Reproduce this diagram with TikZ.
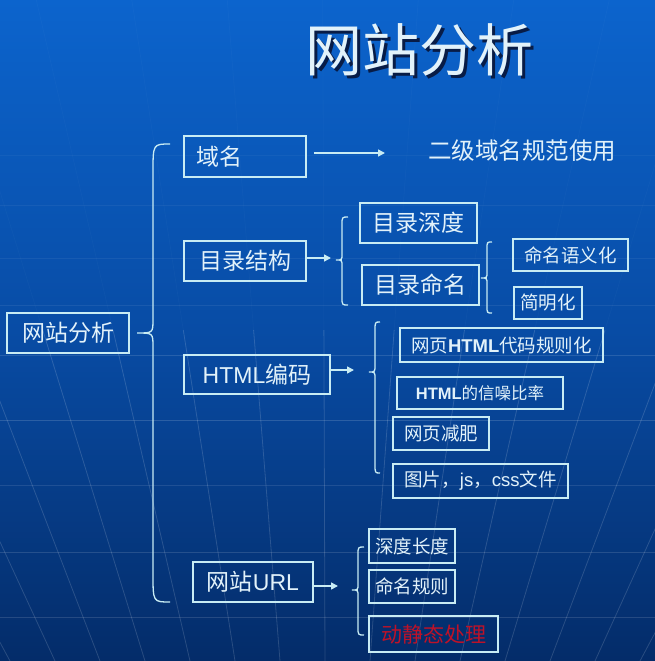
\documentclass[tikz,border=0pt]{standalone}
\usepackage{fontspec}
\setmainfont{Liberation Sans}
\newfontfamily\cjkf{Noto Sans CJK SC}
\usetikzlibrary{arrows.meta}
\newcommand\cj[1]{{\cjkf #1}}
\newcommand\fbig{\fontsize{23}{26}\selectfont}
\newcommand\fsml{\fontsize{18.5}{21}\selectfont}
\definecolor{bgtop}{RGB}{12,100,205}
\definecolor{bgmid}{RGB}{8,76,165}
\definecolor{bgbot}{RGB}{4,44,105}
\definecolor{linec}{RGB}{200,236,244}
\definecolor{txtc}{RGB}{226,242,250}
\definecolor{redt}{RGB}{190,18,40}
\definecolor{shadowc}{RGB}{8,28,70}
\tikzset{
  box/.style={draw=linec, line width=1.5pt, text=txtc, inner sep=0pt, align=center},
  brc/.style={draw=linec, line width=1.3pt},
  arr/.style={draw=linec, line width=1.5pt, -{Triangle[length=7pt,width=7pt]}},
  gridl/.style={draw=white, line width=0.8pt},
}
\newcommand\curly[8]{%
  \draw[brc] (#3,#4) .. controls (#1,#4) .. (#1,#4+#7) -- (#1,#5-#8)
    .. controls (#1,#5) .. (#2,#5) .. controls (#1,#5) .. (#1,#5+#8)
    -- (#1,#6-#7) .. controls (#1,#6) .. (#3,#6);}
\begin{document}
\begin{tikzpicture}[x=1pt,y=-1pt]
\useasboundingbox (0,0) rectangle (655,661);
\shade[top color=bgtop, bottom color=bgbot, middle color=bgmid] (0,0) rectangle (655,661);
% background grid
\begin{scope}
\clip (0,0) rectangle (655,661);
\foreach \yy/\op in {155/0.04,205/0.05,258/0.06,305/0.07,355/0.12,420/0.15,485/0.10,552/0.13,617/0.13}
  \draw[gridl, opacity=\op] (0,\yy) -- (655,\yy);
\foreach \xb in {-125,-80,...,730}{
  \pgfmathsetmacro\xu{327+(\xb-327)*2.122}
  \pgfmathsetmacro\xm{327+(\xb-327)*1.562}
  \draw[gridl, opacity=0.025] (\xu,0) -- (\xm,330);
  \draw[gridl, opacity=0.15] (\xm,330) -- (\xb,661);
}
\end{scope}
% title
\node[font=\cjkf\fontsize{57}{60}\selectfont, text=shadowc] (titleshadow) at (422,53) {网站分析};
\node[font=\cjkf\fontsize{57}{60}\selectfont, text=txtc] (title) at (419,50) {网站分析};
% nodes
\node[box, minimum width=122pt, minimum height=41pt, text width=98pt, align=left, inner xsep=12pt, font=\cjkf\fbig] (yuming) at (245,156.5) {域名};
\node[text=txtc, font=\cjkf\fontsize{23.5}{26}\selectfont] (erji) at (522,151) {二级域名规范使用};
\node[box, minimum width=122pt, minimum height=40pt, font=\cjkf\fbig] (mulu) at (245,261) {目录结构};
\node[box, minimum width=117pt, minimum height=40pt, font=\cjkf\fbig] (mlsd) at (418.5,223) {目录深度};
\node[box, minimum width=117pt, minimum height=40pt, font=\cjkf\fbig] (mlmm) at (420.5,285) {目录命名};
\node[box, minimum width=115pt, minimum height=32pt, font=\cjkf\fsml] (mmyyh) at (570.5,255) {命名语义化};
\node[box, minimum width=68pt, minimum height=32pt, font=\cjkf\fsml] (jmh) at (548,303) {简明化};
\node[box, minimum width=122pt, minimum height=40pt, font=\cjkf\fbig] (root) at (68,333) {网站分析};
\node[box, minimum width=146pt, minimum height=39pt, font=\fbig] (html) at (257,374.5) {HTML\cj{编码}};
\node[box, minimum width=203pt, minimum height=34pt, font=\fsml] (h1) at (501.5,345) {\cj{网页}\textbf{HTML}\cj{代码规则化}};
\node[box, minimum width=166pt, minimum height=32pt, font=\fontsize{16.5}{19}\selectfont] (h2) at (480,393) {\textbf{HTML}\cj{的信噪比率}};
\node[box, minimum width=96pt, minimum height=33pt, font=\cjkf\fsml] (h3) at (441,433.5) {网页减肥};
\node[box, minimum width=175pt, minimum height=34pt, font=\fsml] (h4) at (480.5,481) {\cj{图片，}js\cj{，}css\cj{文件}};
\node[box, minimum width=120pt, minimum height=40pt, font=\fbig] (url) at (253,582) {\cj{网站}URL};
\node[box, minimum width=86pt, minimum height=34pt, font=\cjkf\fsml] (u1) at (412,546) {深度长度};
\node[box, minimum width=86pt, minimum height=33pt, font=\cjkf\fsml] (u2) at (412,586.5) {命名规则};
\node[box, minimum width=129pt, minimum height=36pt, text=redt, font=\cjkf\fontsize{21}{24}\selectfont] (u3) at (433.5,634) {动静态处理};
% arrows
\coordinate (yarr) at (385,153);
\coordinate (mtip) at (331,258);
\coordinate (htip) at (354,370);
\coordinate (utip) at (338,586);
\draw[arr, shorten <=7pt] (yuming.east |- yarr) -- (yarr);
\draw[arr] (mulu.east |- mtip) -- (mtip);
\draw[arr] (html.east |- htip) -- (htip);
\draw[arr] (url.east |- utip) -- (utip);
% braces
\curly{153}{137}{170}{144}{333}{602}{28}{14}
\curly{342}{336}{348}{217}{260}{305}{8}{6}
\curly{487}{481}{492}{242}{278}{313}{7}{6}
\curly{375}{369}{380}{322}{372}{473}{9}{7}
\curly{358}{352}{364}{547}{590}{635}{8}{6}
\end{tikzpicture}
\end{document}
